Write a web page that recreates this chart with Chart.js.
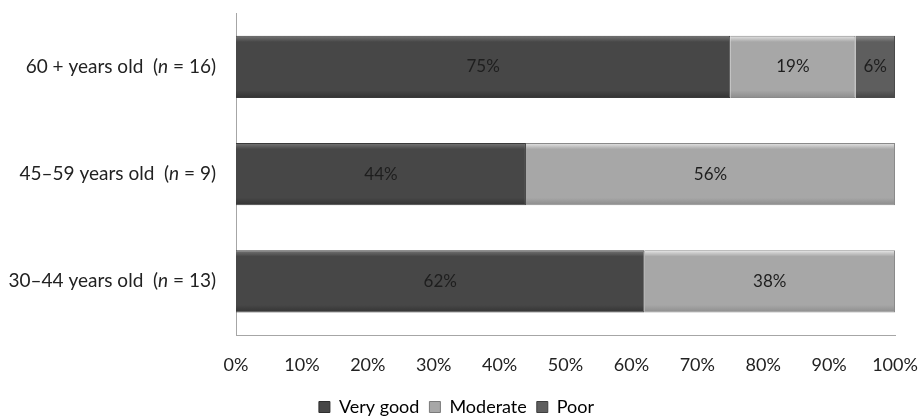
<!DOCTYPE html>
<html>
<head>
<meta charset="utf-8">
<script src="https://cdn.jsdelivr.net/npm/chart.js@4.4.1/dist/chart.umd.min.js"></script>
<style>
  html, body { margin: 0; padding: 0; background: #fff; }
  #wrap { width: 921px; height: 420px; position: relative; }
</style>
</head>
<body>
<div id="wrap"><canvas id="chart"></canvas></div>
<script>
// Age groups (top to bottom) and their n
const groups = ['60 + years old', '45\u201359 years old', '30\u201344 years old'];
const groupN = [16, 9, 13];

// Share of respondents per rating (%)
const veryGood = [75, 44, 62];
const moderate = [19, 56, 38];
const poor = [6, 0, 0];

const xTicks = [0, 10, 20, 30, 40, 50, 60, 70, 80, 90, 100];

const FONT = 'Lato, "Open Sans", sans-serif';
const BAR_PCT = 0.58;

// y labels with an italic "n", drawn over the (transparent) tick labels
const groupLabelPlugin = {
    id: 'groupLabels',
    afterDraw(chart) {
        const ctx = chart.ctx;
        const yScale = chart.scales.y;
        const right = chart.chartArea.left - 20;
        ctx.save();
        ctx.fillStyle = '#222';
        ctx.textBaseline = 'middle';
        groups.forEach((g, i) => {
            const y = yScale.getPixelForValue(i);
            const parts = [
                { t: g + '  (', f: '19px ' + FONT },
                { t: 'n', f: 'italic 19px ' + FONT },
                { t: ' = ' + groupN[i] + ')', f: '19px ' + FONT }
            ];
            let w = 0;
            parts.forEach(p => { ctx.font = p.f; w += ctx.measureText(p.t).width; });
            let x = right - w;
            ctx.textAlign = 'left';
            parts.forEach(p => {
                ctx.font = p.f;
                ctx.fillText(p.t, x, y);
                x += ctx.measureText(p.t).width;
            });
        });
        ctx.restore();
    }
};

// percentage labels in the middle of each segment
const valueLabelPlugin = {
    id: 'valueLabels',
    afterDatasetsDraw(chart) {
        const ctx = chart.ctx;
        ctx.save();
        ctx.font = '17px ' + FONT;
        ctx.fillStyle = '#1e1e1e';
        ctx.textAlign = 'center';
        ctx.textBaseline = 'middle';
        chart.data.datasets.forEach((ds, di) => {
            const meta = chart.getDatasetMeta(di);
            meta.data.forEach((bar, i) => {
                const v = ds.data[i];
                if (!v) return;
                const p = bar.getProps(['x', 'base', 'y'], true);
                ctx.fillText(v + '%', (p.x + p.base) / 2, p.y);
            });
        });
        ctx.restore();
    }
};

// soft bevel: lighter top edge, darker bottom edge
function shade(top, mid, bottom) {
    return (c) => {
        const yScale = c.chart.scales && c.chart.scales.y;
        if (!yScale || c.dataIndex === undefined) return mid;
        const cy = yScale.getPixelForValue(c.dataIndex);
        const band = Math.abs(yScale.getPixelForValue(1) - yScale.getPixelForValue(0));
        const h = band * BAR_PCT;
        if (!isFinite(cy) || !isFinite(h) || h <= 0) return mid;
        const g = c.chart.ctx.createLinearGradient(0, cy - h / 2, 0, cy + h / 2);
        g.addColorStop(0, top);
        g.addColorStop(0.1, mid);
        g.addColorStop(0.88, mid);
        g.addColorStop(1, bottom);
        return g;
    };
}

new Chart(document.getElementById('chart'), {
    type: 'bar',
    data: {
        labels: groups,
        datasets: [
            {
                label: 'Very good',
                data: veryGood,
                backgroundColor: shade('#777777', '#474747', '#333333'),
                borderColor: '#3a3a3a',
                borderWidth: 1
            },
            {
                label: 'Moderate',
                data: moderate,
                backgroundColor: shade('#e6e6e6', '#a7a7a7', '#8c8c8c'),
                borderColor: '#8a8a8a',
                borderWidth: 1
            },
            {
                label: 'Poor',
                data: poor,
                backgroundColor: shade('#959595', '#5e5e5e', '#444444'),
                borderColor: '#4a4a4a',
                borderWidth: 1
            }
        ]
    },
    options: {
        indexAxis: 'y',
        responsive: true,
        maintainAspectRatio: false,
        animation: false,
        layout: { padding: { top: 11, right: 8, left: 0, bottom: -6 } },
        datasets: {
            bar: { categoryPercentage: 1, barPercentage: BAR_PCT }
        },
        scales: {
            x: {
                stacked: true,
                min: 0,
                max: 100,
                afterBuildTicks: (scale) => { scale.ticks = xTicks.map(v => ({ value: v })); },
                afterFit: (scale) => {
                    scale.height = 53;
                    scale.paddingRight = 26;
                    scale.paddingLeft = 0;
                },
                grid: { display: false, drawTicks: false },
                border: { color: '#a6a6a6', width: 1 },
                ticks: {
                    color: '#222',
                    padding: 19,
                    font: { family: FONT, size: 18 },
                    maxRotation: 0,
                    callback: (v) => v + '%'
                }
            },
            y: {
                stacked: true,
                grid: { display: false, drawTicks: false },
                border: { color: '#a6a6a6', width: 1 },
                afterFit: (scale) => { scale.width = 236; },
                ticks: { color: 'rgba(0,0,0,0)', font: { family: FONT, size: 17 } }
            }
        },
        plugins: {
            legend: {
                position: 'bottom',
                labels: {
                    color: '#222',
                    font: { family: FONT, size: 18 },
                    boxWidth: 11,
                    boxHeight: 11,
                    padding: 10,
                    generateLabels: (chart) => chart.data.datasets.map((ds, i) => ({
                        text: ds.label,
                        fillStyle: ['#474747', '#a7a7a7', '#5e5e5e'][i],
                        strokeStyle: ['#2e2e2e', '#7a7a7a', '#3e3e3e'][i],
                        lineWidth: 1,
                        datasetIndex: i
                    }))
                }
            },
            tooltip: { enabled: false }
        }
    },
    plugins: [groupLabelPlugin, valueLabelPlugin]
});
</script>
</body>
</html>
